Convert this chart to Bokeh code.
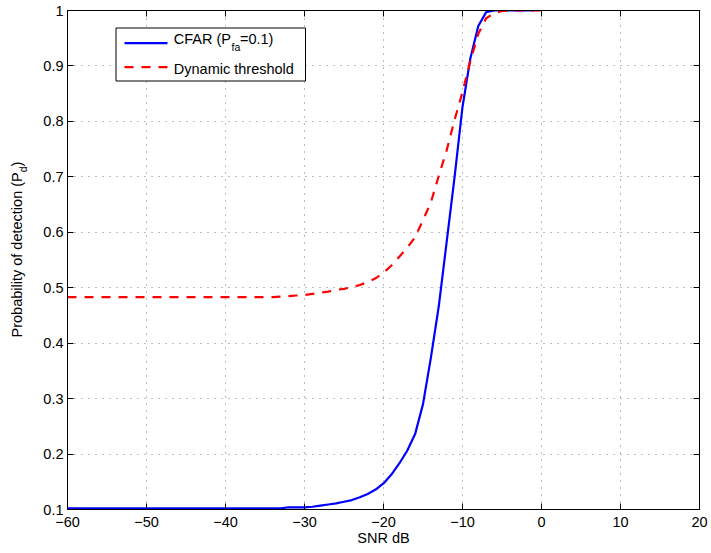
import math
from bokeh.plotting import figure
from bokeh.models import Range1d, FixedTicker, LinearAxis
from bokeh.layouts import row
from bokeh.core.properties import value
from bokeh.embed import file_html
from bokeh.resources import INLINE

# ---------------- data ----------------
snr_cfar = list(range(-60, 0))          # -60 .. -1 dB
pd_cfar = [0.102] * 27 + [
    0.102, 0.104, 0.104, 0.104, 0.105, 0.107, 0.109, 0.111, 0.114, 0.117,   # -33 .. -24
    0.122, 0.128, 0.136, 0.147, 0.163, 0.183, 0.206, 0.236, 0.290, 0.374,   # -23 .. -14
    0.467, 0.583, 0.700, 0.826, 0.914, 0.972, 0.997, 1.000, 1.000, 1.000,   # -13 .. -4
    1.000, 1.000, 1.000,                                                    # -3 .. -1
]
snr_dyn = list(range(-60, 1))           # -60 .. 0 dB
pd_dyn = [0.483] * 26 + [
    0.483, 0.484, 0.485, 0.486, 0.487, 0.489, 0.491, 0.493, 0.496, 0.498,   # -34 .. -25
    0.501, 0.505, 0.510, 0.517, 0.527, 0.540, 0.556, 0.572, 0.591, 0.622,   # -24 .. -15
    0.654, 0.702, 0.748, 0.803, 0.853, 0.909, 0.958, 0.986, 0.995, 0.999,   # -14 .. -5
    1.000, 1.000, 1.000, 1.000, 1.000,                                      # -4 .. 0
]
x_ticks = [-60, -50, -40, -30, -20, -10, 0, 10, 20]
x_tick_labels = ["\u221260", "\u221250", "\u221240", "\u221230", "\u221220", "\u221210", "0", "10", "20"]
y_ticks = [0.1, 0.2, 0.3, 0.4, 0.5, 0.6, 0.7, 0.8, 0.9, 1.0]
y_tick_labels = ["0.1", "0.2", "0.3", "0.4", "0.5", "0.6", "0.7", "0.8", "0.9", "1"]
legend_labels = ["CFAR (P", "fa", "=0.1)", "Dynamic threshold"]
x_title = "SNR dB"
y_title = ["Probability of detection (P", "d", ")"]

# ---------------- layout ----------------
W, H = 711, 553
STRIP = 40                      # left strip that carries the y title
FL, FT, FR, FB = 67, 10, 699, 509   # frame edges in window pixels
X0, X1, Y0, Y1 = -60, 20, 0.1, 1.0
FONT = "Liberation Sans"
FS, FS_N = "14.5px", 14.5
FS_SUB, FS_SUB_N = "10.5px", 10.5
BL_FIX = 6.0 / 14.5            # renderer puts alphabetic baseline this much (em) lower


def dx(px):
    return X0 + (px - FL) / (FR - FL) * (X1 - X0)


def dy(py):
    return Y1 - (py - FT) / (FB - FT) * (Y1 - Y0)


p = figure(width=W - STRIP, height=H, output_backend="svg", toolbar_location=None,
           x_range=Range1d(X0, X1), y_range=Range1d(Y0, Y1),
           min_border_left=FL - STRIP, min_border_right=W - FR,
           min_border_top=FT, min_border_bottom=H - FB,
           background_fill_color="white", border_fill_color="white")
p.outline_line_color = "black"
p.outline_line_width = 1

xt = FixedTicker(ticks=x_ticks)
yt = FixedTicker(ticks=y_ticks)


def style_axis(ax, show_labels):
    ax.axis_line_color = "black"
    ax.axis_line_width = 1
    ax.major_tick_in = 6
    ax.major_tick_out = 0
    ax.major_tick_line_color = "black"
    ax.major_tick_line_width = 1
    ax.minor_tick_line_color = None
    ax.major_label_text_font = FONT
    ax.major_label_text_color = "black"
    if show_labels:
        ax.major_label_text_font_size = FS
    else:
        ax.major_label_text_font_size = "0px"
        ax.major_label_standoff = 0


p.xaxis.ticker = xt
p.yaxis.ticker = yt
p.xaxis.major_label_overrides = dict(zip(x_ticks, x_tick_labels))
p.yaxis.major_label_overrides = dict(zip(y_ticks, y_tick_labels))
style_axis(p.xaxis[0], True)
style_axis(p.yaxis[0], True)
p.xaxis.major_label_standoff = 7
p.yaxis.major_label_standoff = 4
p.xaxis.axis_label = x_title
p.xaxis.axis_label_text_font = FONT
p.xaxis.axis_label_text_font_size = FS
p.xaxis.axis_label_text_font_style = "normal"
p.xaxis.axis_label_text_color = "black"
p.xaxis.axis_label_standoff = 0

top_ax = LinearAxis(ticker=xt, major_label_overrides={t: "" for t in x_ticks})
right_ax = LinearAxis(ticker=yt, major_label_overrides={t: "" for t in y_ticks})
style_axis(top_ax, False)
style_axis(right_ax, False)
p.add_layout(top_ax, "above")
p.add_layout(right_ax, "right")

p.xgrid.ticker = xt
p.ygrid.ticker = yt
for g in (p.xgrid[0], p.ygrid[0]):
    g.grid_line_color = "#7a7a7a"
    g.grid_line_width = 1
    g.grid_line_dash = "1 6"

# ---------------- curves ----------------
p.line(snr_cfar, pd_cfar, line_color="#0000ff", line_width=2.2)
p.line(snr_dyn, pd_dyn, line_color="#ff0000", line_width=2.2, line_dash="9 8")

# ---------------- legend (manual, for subscript) ----------------
p.quad(left=[dx(115.5)], right=[dx(305)], top=[dy(27.5)], bottom=[dy(80.5)],
       fill_color="white", line_color="black", line_width=1)
p.line([dx(124), dx(167)], [dy(42.7), dy(42.7)], line_color="#0000ff", line_width=2.2)
p.line([dx(124), dx(167)], [dy(66.7), dy(66.7)], line_color="#ff0000", line_width=2.2,
       line_dash="9 8")


def txt(fig, text, x, y, size=FS, angle=0.0, align="left"):
    fig.text(x=[x], y=[y], text=[text], text_font=value(FONT), text_font_size=value(size),
             text_color="black", angle=angle, text_align=align,
             text_baseline="alphabetic")


# legend texts: window-pixel baselines corrected for the renderer's offset
fix = BL_FIX * FS_N
fix_s = BL_FIX * FS_SUB_N
txt(p, legend_labels[0], dx(173.3), dy(44.0 - fix))
txt(p, legend_labels[1], dx(231.0), dy(50.7 - fix_s), size=FS_SUB)
txt(p, legend_labels[2], dx(239.5), dy(44.0 - fix))
txt(p, legend_labels[3], dx(173.3), dy(74.0 - fix))

# ---------------- y title strip (frame aligned with the main frame) ----------------
s = figure(width=STRIP, height=H, output_backend="svg", toolbar_location=None,
           x_range=Range1d(0, STRIP), y_range=Range1d(FB, FT),
           x_axis_type=None, y_axis_type=None,
           min_border_left=0, min_border_right=0,
           min_border_top=FT, min_border_bottom=H - FB,
           outline_line_color=None, background_fill_color="white",
           border_fill_color="white")
s.grid.visible = False
txt(s, y_title[0], 22 - fix, 337, angle=math.pi / 2)
txt(s, y_title[1], 27 - fix_s, 171.8, size=FS_SUB, angle=math.pi / 2)
txt(s, y_title[2], 22 - fix, 166.0, angle=math.pi / 2)

layout = row(s, p, spacing=0)
open("out.html", "w").write(file_html(layout, INLINE))
